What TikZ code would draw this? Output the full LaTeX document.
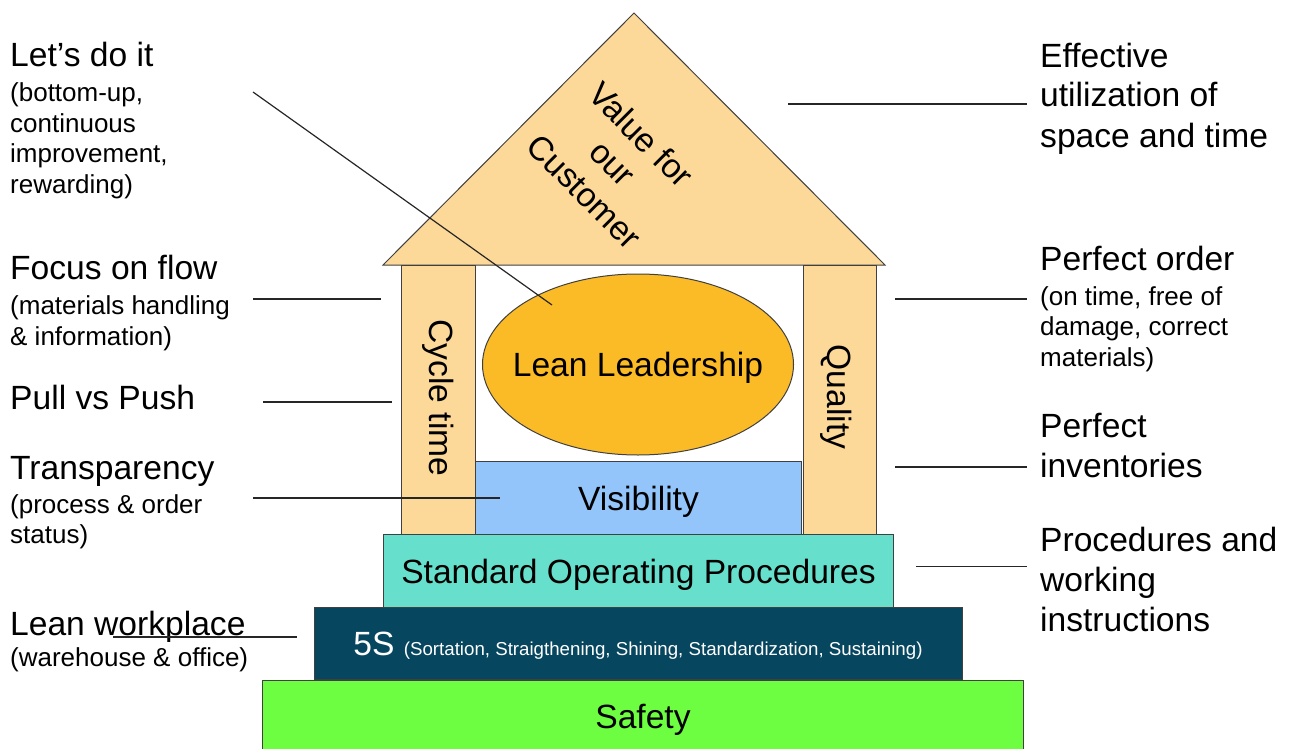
\documentclass[tikz,border=0pt]{standalone}
\usepackage{fontspec}
\setmainfont{Liberation Sans}
\usetikzlibrary{positioning,shapes.geometric}

% colours of the house
\definecolor{housepeach}{RGB}{252,216,153}
\definecolor{leadorange}{RGB}{251,187,38}
\definecolor{visblue}{RGB}{147,197,251}
\definecolor{soptur}{RGB}{102,223,204}
\definecolor{fivesteal}{RGB}{7,70,95}
\definecolor{safegreen}{RGB}{109,253,65}

\newcommand{\mainsize}{\fontsize{33.6}{40}\selectfont}
\newcommand{\subsize}{\fontsize{26}{30.5}\selectfont}
\newcommand{\smallfs}{\fontsize{18.7}{22}\selectfont}

\tikzset{
  part/.style={draw=black!75, line width=1pt},
  block/.style={part, inner sep=0pt, font=\mainsize, text depth=0pt},
  lbl/.style={font=\mainsize, inner sep=0pt, anchor=base west, align=left},
  sublbl/.style={font=\subsize, inner sep=0pt, anchor=base west, align=left},
  pointer/.style={draw=black!85, line width=1.2pt}
}

\begin{document}
\begin{tikzpicture}[x=1pt, y=-1pt] % one unit is one pixel of the reference

    \useasboundingbox (0,0) rectangle (1290,749);

    % --- Coordinates (roof and pillars) ---
    \coordinate (RoofL) at (383,265);
    \coordinate (RoofTop) at (634,13);
    \coordinate (RoofR) at (885,265);

    % --- Drawing the house ---
    % Roof
    \draw[part, fill=housepeach] (RoofL) -- (RoofTop) -- (RoofR) -- cycle;

    % Pillars
    \draw[part, fill=housepeach] (401,265) rectangle (475,535);
    \draw[part, fill=housepeach] (803,265) rectangle (876,535);

    % Inside of the house
    \node[block, ellipse, fill=leadorange, minimum width=311pt, minimum height=181pt] (lead) at (638,364.5) {\makebox[0pt]{Lean Leadership}};
    \node[block, fill=visblue, minimum width=326pt, minimum height=74pt] (vis) at (638.5,498) {Visibility};

    % Foundation steps
    \node[block, fill=soptur, minimum width=510pt, minimum height=72.7pt] (sop) at (638.5,571.3) {Standard Operating Procedures};
    \node[block, fill=fivesteal, text=white, minimum width=648pt, minimum height=72.3pt] (fives) at (638,643.8) {5S {\smallfs (Sortation, Straigthening, Shining, Standardization, Sustaining)}};
    \node[block, fill=safegreen, minimum width=761pt, minimum height=72pt] (safety) at (643,716) {Safety};

    % Texts on roof and pillars
    \node[font=\mainsize, rotate=-45, align=center] (value) at (613,163) {Value for\\our\\Customer};
    \node[font=\mainsize, rotate=-90] (cycle) at (438,398) {Cycle time};
    \node[font=\mainsize, rotate=-90] (quality) at (836,397) {Quality};

    % --- Labels on the left (placed at the baseline of their last line) ---
    \node[lbl] (letsdo) at (10,67) {Let’s do it};
    \node[sublbl] (letsdosub) at (10,193) {(bottom-up,\\continuous\\improvement,\\rewarding)};
    \node[lbl] (flow) at (10,279) {Focus on flow};
    \node[sublbl] (flowsub) at (10,345) {(materials handling\\\& information)};
    \node[lbl] (pull) at (10,409) {Pull vs Push};
    \node[lbl] (transp) at (10,479) {Transparency};
    \node[sublbl] (transpsub) at (10,543.5) {(process \& order\\status)};
    \node[lbl] (workplace) at (10,635) {Lean workplace};
    \node[sublbl] (workplacesub) at (10,666) {(warehouse \& office)};

    % --- Labels on the right ---
    \node[lbl] (effective) at (1040,147) {Effective\\utilization of\\space and time};
    \node[lbl] (order) at (1040,270) {Perfect order};
    \node[sublbl] (ordersub) at (1040,366) {(on time, free of\\damage, correct\\materials)};
    \node[lbl] (inventories) at (1040,477) {Perfect\\inventories};
    \node[lbl] (procedures) at (1040,631) {Procedures and\\working\\instructions};

    % --- Pointer lines ---
    \coordinate (letsdoA) at (253,92);      \coordinate (letsdoB) at (552,305);
    \coordinate (flowA) at (253,299);       \coordinate (flowB) at (381,299);
    \coordinate (pullA) at (263,402);       \coordinate (pullB) at (392,402);
    \coordinate (transpA) at (253,498);     \coordinate (transpB) at (500,498);
    \coordinate (workplaceA) at (113,637);  \coordinate (workplaceB) at (297,637);
    \coordinate (effectiveA) at (788,104);  \coordinate (effectiveB) at (1027,104);
    \coordinate (orderA) at (895,299);      \coordinate (orderB) at (1027,299);
    \coordinate (inventA) at (895,467);     \coordinate (inventB) at (1027,467);
    \coordinate (procA) at (916,566.5);     \coordinate (procB) at (1027,566.5);

    \draw[pointer] (letsdoA) -- (letsdoB);
    \draw[pointer] (flowA) -- (flowB);
    \draw[pointer] (pullA) -- (pullB);
    \draw[pointer] (transpA) -- (transpB);
    \draw[pointer] (workplaceA) -- (workplaceB);
    \draw[pointer] (effectiveA) -- (effectiveB);
    \draw[pointer] (orderA) -- (orderB);
    \draw[pointer] (inventA) -- (inventB);
    \draw[pointer] (procA) -- (procB);

\end{tikzpicture}
\end{document}
